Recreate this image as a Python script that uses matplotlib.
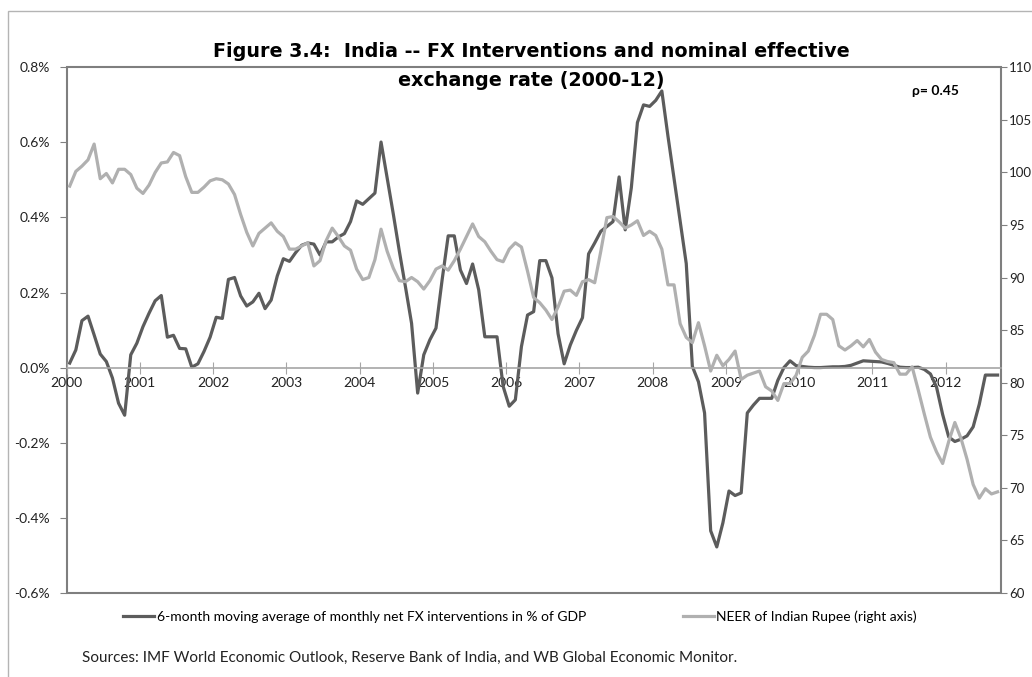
import numpy as np
import matplotlib
matplotlib.use('Agg')
import matplotlib.pyplot as plt
from matplotlib.lines import Line2D
from matplotlib.patches import Rectangle
from matplotlib.ticker import FuncFormatter, MultipleLocator

plt.rcParams['font.family'] = ['Lato', 'DejaVu Sans']

# monthly data, Jan 2000 - Sep 2012
# 6-month moving average of net FX interventions, % of GDP
fx_ma = [
    0.012, 0.047, 0.125, 0.137, 0.087, 0.036, 0.016, -0.028, -0.095, -0.127, 0.034, 0.065,   # 2000
    0.109, 0.145, 0.178, 0.192, 0.081, 0.086, 0.051, 0.050, 0.001, 0.010, 0.043, 0.081,     # 2001
    0.134, 0.131, 0.235, 0.240, 0.191, 0.164, 0.175, 0.198, 0.157, 0.180, 0.244, 0.290,     # 2002
    0.283, 0.306, 0.326, 0.332, 0.329, 0.300, 0.335, 0.335, 0.348, 0.357, 0.389, 0.444,     # 2003
    0.435, 0.450, 0.465, 0.601, 0.505, 0.410, 0.310, 0.215, 0.118, -0.068, 0.034, 0.074,    # 2004
    0.105, 0.233, 0.351, 0.351, 0.260, 0.224, 0.276, 0.207, 0.082, 0.082, 0.082, -0.050,    # 2005
    -0.103, -0.086, 0.056, 0.140, 0.149, 0.285, 0.285, 0.239, 0.090, 0.010, 0.060, 0.099,   # 2006
    0.133, 0.303, 0.332, 0.363, 0.376, 0.389, 0.508, 0.367, 0.479, 0.653, 0.700, 0.696,     # 2007
    0.712, 0.737, 0.617, 0.504, 0.390, 0.277, 0.003, -0.038, -0.121, -0.435, -0.478, -0.414,  # 2008
    -0.329, -0.341, -0.334, -0.121, -0.100, -0.082, -0.082, -0.082, -0.034, 0.000, 0.018, 0.005,  # 2009
    0.003, 0.001, 0.000, 0.000, 0.001, 0.002, 0.002, 0.003, 0.006, 0.012, 0.018, 0.017,     # 2010
    0.016, 0.015, 0.011, 0.006, 0.001, 0.000, 0.000, 0.001, -0.005, -0.017, -0.052, -0.125,  # 2011
    -0.185, -0.197, -0.191, -0.182, -0.158, -0.098, -0.020, -0.020, -0.020,                 # 2012
]

# NEER of Indian Rupee (right axis)
neer = [
    98.7, 100.1, 100.6, 101.2, 102.7, 99.4, 99.9, 99.0, 100.3, 100.3, 99.8, 98.5,
    98.0, 98.8, 100.0, 100.9, 101.0, 101.9, 101.6, 99.6, 98.1, 98.1, 98.6, 99.2,
    99.4, 99.3, 98.9, 97.9, 96.0, 94.3, 93.0, 94.2, 94.7, 95.2, 94.4, 93.9,
    92.7, 92.7, 93.0, 93.3, 91.1, 91.6, 93.5, 94.7, 93.9, 93.0, 92.6, 90.8,
    89.8, 90.0, 91.7, 94.6, 92.5, 90.9, 89.7, 89.6, 90.0, 89.6, 88.9, 89.7,
    90.8, 91.1, 90.7, 91.6, 92.7, 93.9, 95.1, 93.9, 93.4, 92.5, 91.7, 91.5,
    92.7, 93.3, 92.9, 90.6, 88.1, 87.6, 86.9, 86.0, 87.2, 88.7, 88.8, 88.3,
    89.6, 89.8, 89.5, 92.5, 95.7, 95.8, 95.3, 94.7, 95.0, 95.4, 94.0, 94.4,
    94.0, 92.7, 89.3, 89.3, 85.6, 84.3, 83.8, 85.7, 83.5, 81.1, 82.6, 81.6,
    82.2, 83.0, 80.3, 80.7, 80.9, 81.1, 79.6, 79.2, 78.3, 79.9, 79.9, 80.7,
    82.4, 83.0, 84.5, 86.5, 86.5, 86.0, 83.5, 83.1, 83.5, 84.0, 83.4, 84.1,
    82.9, 82.2, 82.0, 81.9, 80.8, 80.8, 81.5, 79.3, 77.0, 74.8, 73.4, 72.3,
    74.4, 76.2, 74.7, 72.7, 70.3, 69.0, 69.9, 69.4, 69.6,
]

years = list(range(2000, 2013))
months = 2000 + (np.arange(len(fx_ma)) + 0.5) / 12

dark = '#5c5c5c'
light = '#b0b0b0'

fig = plt.figure(figsize=(10.32, 6.77), dpi=100)
fig.patches.append(Rectangle((8 / 1032, -0.1), 1.2, 1.1 - 10.5 / 677,
                             transform=fig.transFigure, fill=False,
                             edgecolor='#b4b4b4', lw=1))

ax = fig.add_axes([0.0646, 0.1245, 0.905, 0.776])
ax.plot(months, fx_ma, color=dark, lw=2.3, solid_joinstyle='round')
ax.set_xlim(2000, 2000 + len(fx_ma) / 12)
ax.set_ylim(-0.6, 0.8)
ax.yaxis.set_major_locator(MultipleLocator(0.2))
ax.yaxis.set_major_formatter(FuncFormatter(lambda v, p: f'{round(v, 1) + 0:.1f}%'))
for s in ax.spines.values():
    s.set_visible(False)
ax.spines['bottom'].set_visible(True)
ax.spines['bottom'].set_position(('data', 0))
ax.spines['bottom'].set_color('#a6a6a6')
ax.spines['bottom'].set_linewidth(1.2)
ax.set_xticks(years)
ax.set_xticklabels([str(y) for y in years])
ax.tick_params(axis='x', direction='inout', length=8, color='#a6a6a6', pad=3,
               labelsize=10, labelcolor='#222222')
ax.tick_params(axis='y', direction='out', length=5, color='#808080', pad=7,
               labelsize=10, labelcolor='#222222')
ax.add_patch(Rectangle((0, 0), 1, 1, transform=ax.transAxes, fill=False,
                       edgecolor='#7f7f7f', lw=1.5, clip_on=False))

ax2 = ax.twinx()
ax2.plot(months, neer, color=light, lw=2.3, solid_joinstyle='round')
ax2.set_ylim(60, 110)
ax2.set_yticks(range(60, 111, 5))
for s in ax2.spines.values():
    s.set_visible(False)
ax2.tick_params(axis='y', direction='out', length=4, color='#808080', pad=2,
                labelsize=9.5, labelcolor='#222222')

title_font = dict(family=['DejaVu Sans'], fontsize=13.8, fontweight='bold')
fig.text(0.515, 1 - 57 / 677, 'Figure 3.4:  India -- FX Interventions and nominal effective',
         ha='center', va='baseline', **title_font)
fig.text(0.515, 1 - 86 / 677, 'exchange rate (2000-12)',
         ha='center', va='baseline', **title_font)
fig.text(912 / 1032, 1 - 95 / 677, 'ρ= 0.45', ha='left', va='baseline',
         fontsize=10, fontweight='bold')

handles = [Line2D([], [], color=dark, lw=2.3), Line2D([], [], color=light, lw=2.3)]
labels = ['6-month moving average of monthly net FX interventions in % of GDP',
          'NEER of Indian Rupee (right axis)']
fig.legend(handles, labels, loc='center', bbox_to_anchor=(0.504, 1 - 617 / 677),
           ncol=2, frameon=False, fontsize=10, handlelength=2.2,
           handletextpad=0.2, columnspacing=7)

fig.text(82 / 1032, 1 - 661.7 / 677,
         'Sources: IMF World Economic Outlook, Reserve Bank of India, and WB Global Economic Monitor.',
         ha='left', va='baseline', fontsize=11, color='#222222')

fig.savefig('out.png', dpi=100)
